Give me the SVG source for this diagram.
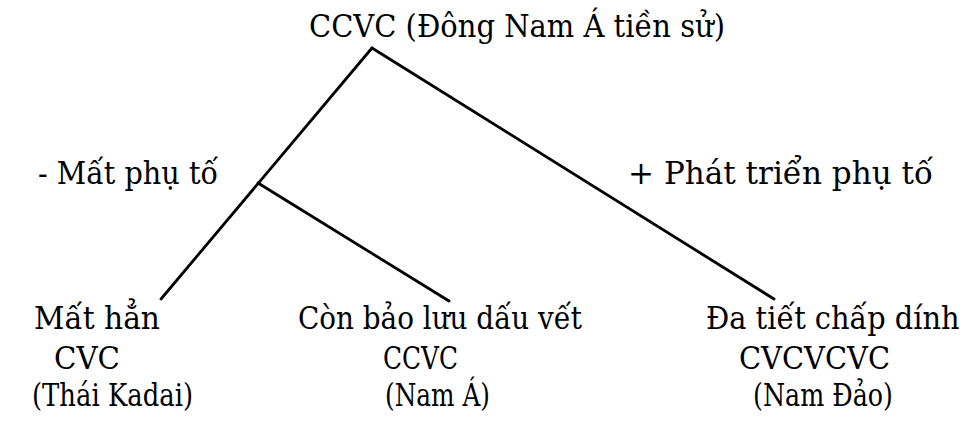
<svg xmlns="http://www.w3.org/2000/svg" width="969" height="435" viewBox="0 0 969 435">
<style>
text{font-family:"DejaVu Serif","Liberation Serif",serif;font-size:31px;fill:#000}
.ln{stroke:#000;stroke-width:2.8;fill:none;stroke-linecap:round}
</style>
<rect width="969" height="435" fill="#fff"/>
<g id="connectors">
<line class="ln" x1="372" y1="48" x2="161" y2="299"/>
<line class="ln" x1="258" y1="183" x2="449" y2="301"/>
<line class="ln" x1="372" y1="48" x2="774" y2="299"/>
</g>
<g id="root"><text x="309" y="37" textLength="416" lengthAdjust="spacingAndGlyphs">CCVC (Đông Nam Á tiền sử)</text></g>
<g id="label-left"><text x="38" y="184" textLength="180" lengthAdjust="spacingAndGlyphs">- Mất phụ tố</text></g>
<g id="label-right"><text x="628" y="184" textLength="305" lengthAdjust="spacingAndGlyphs">+ Phát triển phụ tố</text></g>
<g id="node-thai">
<text x="34" y="329" textLength="126" lengthAdjust="spacingAndGlyphs">Mất hẳn</text>
<text x="54" y="369" textLength="66" lengthAdjust="spacingAndGlyphs">CVC</text>
<text x="32" y="406" textLength="161" lengthAdjust="spacingAndGlyphs">(Thái Kadai)</text>
</g>
<g id="node-namA">
<text x="298" y="329" textLength="284" lengthAdjust="spacingAndGlyphs">Còn bảo lưu dấu vết</text>
<text x="383" y="369" textLength="75" lengthAdjust="spacingAndGlyphs">CCVC</text>
<text x="385" y="406" textLength="105" lengthAdjust="spacingAndGlyphs">(Nam Á)</text>
</g>
<g id="node-namDao">
<text transform="translate(706 329) scale(0.93 1)">Đa tiết chấp dính</text>
<text x="739" y="369" textLength="151" lengthAdjust="spacingAndGlyphs">CVCVCVC</text>
<text x="753" y="406" textLength="140" lengthAdjust="spacingAndGlyphs">(Nam Đảo)</text>
</g>
</svg>
